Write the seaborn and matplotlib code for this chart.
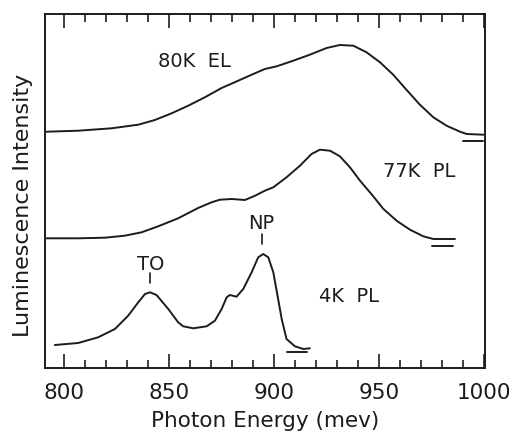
import matplotlib
matplotlib.use("Agg")
import matplotlib.pyplot as plt
import seaborn as sns
import pandas as pd
from matplotlib.ticker import MultipleLocator

# ---- data ----
el80_x = [791.8, 806.8, 822.7, 835.4, 843.3, 851.3, 859.2, 867.1, 875.1, 883.0,
          889.4, 895.7, 901.3, 909.2, 917.1, 925.1, 931.4, 937.8, 944.1, 950.5,
          956.8, 963.2, 969.5, 975.9, 982.2, 988.6, 991.8, 999.7]
el80_y = [237.3, 238.3, 240.7, 244.3, 249, 255.7, 263.3, 271.7, 281, 288.3,
          294.3, 300, 302.7, 308.3, 314.3, 321, 324, 323.3, 316.7, 306.7,
          294.3, 279, 264.3, 251.7, 243.3, 237.3, 235, 234.3]

pl77_x = [791.8, 806.8, 819.5, 829.0, 837.0, 844.9, 854.4, 863.9, 870.3, 874.3,
          879.9, 886.2, 891.0, 895.7, 899.7, 906.0, 912.4, 917.9, 921.9, 926.7,
          931.4, 936.2, 941.0, 947.3, 952.0, 958.4, 964.8, 971.1, 975.9, 986.2]
pl77_y = [130.7, 130.7, 131.3, 133.3, 136.7, 142.7, 150.7, 161, 166.7, 169.3,
          170, 169, 173.3, 178.3, 181.7, 191.7, 203.3, 215, 219.3, 218.3,
          212.7, 201.7, 188.3, 172.7, 160.3, 148.3, 139.3, 132.7, 130, 130]

pl4_x = [795.7, 806.8, 816.3, 824.3, 830.6, 835.4, 838.6, 841.0, 844.1, 849.7,
         854.4, 856.8, 861.6, 868.0, 871.9, 875.1, 877.5, 879.0, 882.2, 885.4,
         889.4, 892.5, 894.9, 897.3, 899.7, 902.0, 903.7, 906.0, 910.0, 914.0, 917.1]
pl4_y = [24, 26, 31.7, 40, 53.3, 66.7, 75, 76.7, 74, 60,
         46.7, 42.7, 40.7, 42.7, 48.3, 60, 71.7, 74, 72.3, 80,
         96.7, 111.7, 115, 111.7, 96.7, 70, 50, 30, 22.7, 20, 20.7]

# zero-level markers (x start, x end, y)
zero_marks = [(990.1, 999.7, 228.3), (975.1, 985.4, 123.3), (906.0, 915.6, 16.7)]

curve_labels = ["80K  EL", "77K  PL", "4K  PL"]
curve_label_pos = [(862, 308), (969, 198), (935.7, 73)]

peak_names = ["TO", "NP"]
peak_pos = [(841.2, 105), (893.8, 146)]
peak_ticks = [(841.2, 86, 96), (894.3, 125, 135)]

xticks = [800, 850, 900, 950, 1000]

# ---- plot ----
sns.set_style("ticks")
plt.rcParams["font.family"] = ["DejaVu Sans"]
ink = "#1c1c1c"

fig = plt.figure(figsize=(5.14, 4.35), dpi=100)
ax = fig.add_axes([45 / 514, 1 - 369 / 435, 440 / 514, 354 / 435])

frames = []
for name, xs, ys in [("80K EL", el80_x, el80_y), ("77K PL", pl77_x, pl77_y), ("4K PL", pl4_x, pl4_y)]:
    frames.append(pd.DataFrame({"E": xs, "I": ys, "curve": name}))
df = pd.concat(frames, ignore_index=True)

for name in ["80K EL", "77K PL", "4K PL"]:
    sub = df[df["curve"] == name]
    sns.lineplot(data=sub, x="E", y="I", ax=ax, color=ink, lw=1.4,
                 sort=False, estimator=None)
for line in ax.lines:
    line.set_solid_joinstyle("round")

for x0, x1, y in zero_marks:
    ax.plot([x0, x1], [y, y], color=ink, lw=1.4)

for txt, (x, y) in zip(curve_labels, curve_label_pos):
    ax.text(x, y, txt, fontsize=14, ha="center", va="center", color=ink)

for txt, (x, y) in zip(peak_names, peak_pos):
    ax.text(x, y, txt, fontsize=14, ha="center", va="center", color=ink)
for x, y0, y1 in peak_ticks:
    ax.plot([x, x], [y0, y1], color=ink, lw=1.2)

ax.set_xlim(791, 1000.5)
ax.set_ylim(1, 355)
ax.set_xticks(xticks)
ax.set_xticklabels([str(t) for t in xticks])
ax.xaxis.set_minor_locator(MultipleLocator(10))
ax.set_yticks([])
ax.tick_params(axis="x", which="major", direction="in", length=10, width=1.2,
               top=True, bottom=True, labelsize=15.5, pad=10, colors=ink)
ax.tick_params(axis="x", which="minor", direction="in", length=5.5, width=1.2,
               top=True, bottom=True, colors=ink)
for s in ax.spines.values():
    s.set_linewidth(1.4)
    s.set_color(ink)

ax.set_xlabel("Photon Energy (mev)", fontsize=15.5, color=ink, labelpad=6)
ax.set_ylabel("Luminescence Intensity", fontsize=16, color=ink)
ax.yaxis.set_label_coords(-0.028, 0.463)

fig.savefig("out.png", dpi=100, facecolor="white")
